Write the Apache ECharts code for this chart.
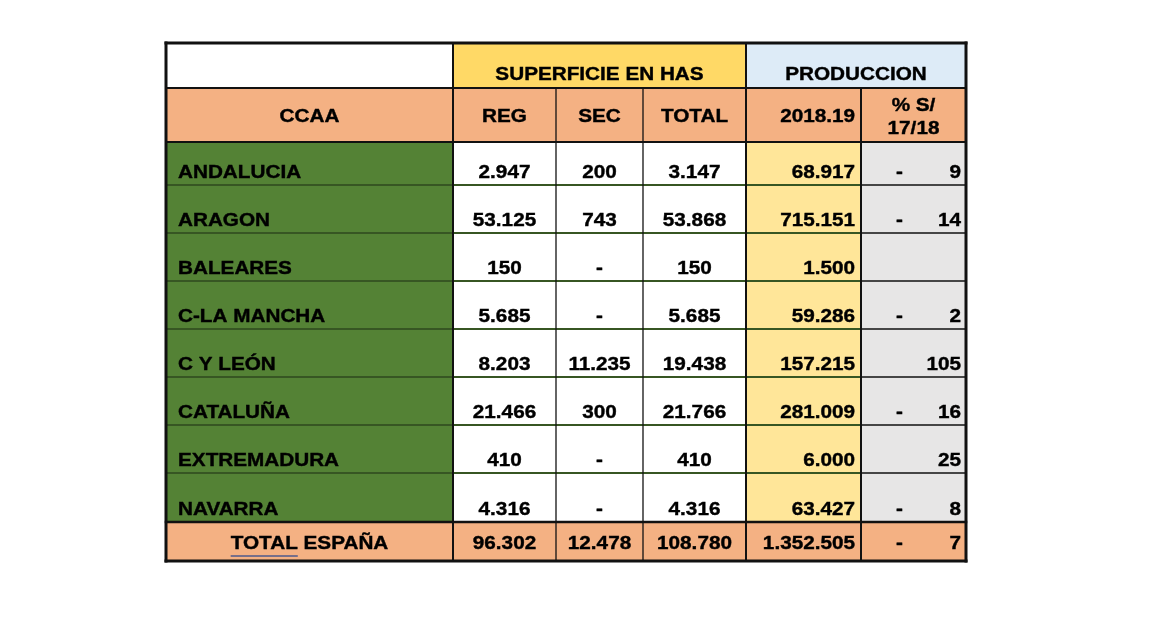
<!DOCTYPE html>
<html>
<head>
<meta charset="utf-8">
<script src="https://cdn.jsdelivr.net/npm/echarts@6/dist/echarts.min.js"></script>
<style>
    html,
    body {
        margin: 0;
        padding: 0;
        background: #fff;
    }

    #tabla {
        width: 1154px;
        height: 618px;
    }
</style>
</head>
<body>
<div id="tabla"></div>
<script>
    // datos de la tabla
    var cabeceraGrupos = ['SUPERFICIE EN HAS', 'PRODUCCION'];
    var cabeceraCols = ['CCAA', 'REG', 'SEC', 'TOTAL', '2018.19', '% S/\n17/18'];
    var regiones = ['ANDALUCIA', 'ARAGON', 'BALEARES', 'C-LA MANCHA', 'C Y LEÓN', 'CATALUÑA', 'EXTREMADURA', 'NAVARRA'];
    var regadio = [2947, 53125, 150, 5685, 8203, 21466, 410, 4316];
    var secano = [200, 743, null, null, 11235, 300, null, null];
    var totalHas = [3147, 53868, 150, 5685, 19438, 21766, 410, 4316];
    var produccion = [68917, 715151, 1500, 59286, 157215, 281009, 6000, 63427];
    var variacion = [-9, -14, null, -2, 105, -16, 25, -8];
    var filaTotal = [96302, 12478, 108780, 1352505, -7];

    // medidas de columnas y filas
    var anchoCol = [287, 103, 87, 103, 115, 105];
    var altoFila = [45, 54, 43, 48, 48, 48, 48, 48, 48, 49, 39];

    var FUENTE = '"Liberation Sans", Arial, sans-serif';
    var TAM = 19;
    var ESCALA = 1.09;

    var colX = [0];
    anchoCol.forEach(function(w) { colX.push(colX[colX.length - 1] + w); });
    var filaY = [0];
    altoFila.forEach(function(h) { filaY.push(filaY[filaY.length - 1] + h); });

    var fmt = function(n) {
        if (n === null || n === undefined) return '-';
        return Math.abs(n).toString().replace(/\B(?=(\d{3})+(?!\d))/g, '.');
    };

    var C_AMARILLO = '#FFD966',
        C_AZUL = '#DDEBF7',
        C_SALMON = '#F4B183',
        C_VERDE = '#548235',
        C_CREMA = '#FFE699',
        C_GRIS = '#E7E6E6';

    // lista de celdas
    var celdas = [];
    var celda = function(c0, c1, r, fill, texto, align, vy, extra) {
        var o = { c0: c0, c1: c1, r: r, fill: fill, texto: texto, align: align, vy: vy };
        for (var k in extra) o[k] = extra[k];
        celdas.push(o);
    };

    // cabecera
    celda(0, 1, 0, '#ffffff', '', 'center', 'mid');
    celda(1, 4, 0, C_AMARILLO, cabeceraGrupos[0], 'center', 'h1');
    celda(4, 6, 0, C_AZUL, cabeceraGrupos[1], 'center', 'h1');
    cabeceraCols.forEach(function(t, i) {
        celda(i, i + 1, 1, C_SALMON, t, i == 4 ? 'right' : 'center', 'h2', i == 5 ? { lh: 23 } : {});
    });

    // filas de comunidades
    regiones.forEach(function(nombre, i) {
        var r = i + 2;
        celda(0, 1, r, C_VERDE, nombre, 'left', 'dato');
        celda(1, 2, r, '#ffffff', fmt(regadio[i]), 'center', 'dato');
        celda(2, 3, r, '#ffffff', fmt(secano[i]), 'center', 'dato');
        celda(3, 4, r, '#ffffff', fmt(totalHas[i]), 'center', 'dato');
        celda(4, 5, r, C_CREMA, fmt(produccion[i]), 'right', 'dato');
        celda(5, 6, r, C_GRIS, variacion[i] === null ? '' : fmt(variacion[i]), 'right', 'dato', { neg: variacion[i] < 0 });
    });

    // fila total
    var rt = regiones.length + 2;
    celda(0, 1, rt, C_SALMON, 'TOTAL ESPAÑA', 'center', 'tot', { subrayar: 'TOTAL' });
    celda(1, 2, rt, C_SALMON, fmt(filaTotal[0]), 'center', 'tot');
    celda(2, 3, rt, C_SALMON, fmt(filaTotal[1]), 'center', 'tot');
    celda(3, 4, rt, C_SALMON, fmt(filaTotal[2]), 'center', 'tot');
    celda(4, 5, rt, C_SALMON, fmt(filaTotal[3]), 'right', 'tot');
    celda(5, 6, rt, C_SALMON, fmt(filaTotal[4]), 'right', 'tot', { neg: filaTotal[4] < 0 });

    // líneas [x1, y1, x2, y2, color, grosor] en bordes de col/fila
    var lineas = [];
    var hLinea = function(r, c0, c1, color, w) { lineas.push([colX[c0], filaY[r], colX[c1], filaY[r], color, w]); };
    var vLinea = function(c, r0, r1, color, w) { lineas.push([colX[c], filaY[r0], colX[c], filaY[r1], color, w]); };
    for (var r = 3; r < rt; r++) {
        hLinea(r, 0, 5, '#375623', 2);
        hLinea(r, 5, 6, '#111', 1.5);
    }
    vLinea(2, 1, 11, '#111', 1.3);
    vLinea(3, 1, 11, '#111', 1.3);
    vLinea(5, 1, 11, '#111', 2);
    vLinea(1, 0, 11, '#111', 2);
    vLinea(4, 0, 11, '#111', 2);
    hLinea(1, 0, 6, '#111', 2);
    hLinea(2, 0, 6, '#111', 2);
    hLinea(rt, 0, 6, '#111', 2.5);
    hLinea(0, 0, 6, '#111', 3);
    hLinea(11, 0, 6, '#111', 3);
    vLinea(0, 0, 11, '#111', 3);
    vLinea(6, 0, 11, '#111', 3);

    var medir = (function() {
        var ctx = document.createElement('canvas').getContext('2d');
        return function(t) {
            ctx.font = 'bold ' + TAM + 'px ' + FUENTE;
            return ctx.measureText(t).width * ESCALA;
        };
    })();

    var texto = function(t, x, y, align, lh) {
        return {
            type: 'text',
            x: x,
            y: y,
            scaleX: ESCALA,
            style: {
                text: t,
                fill: '#000',
                font: 'bold ' + TAM + 'px ' + FUENTE,
                align: align,
                verticalAlign: 'middle',
                lineHeight: lh || TAM,
                stroke: '#000',
                lineWidth: 0.4
            }
        };
    };

    var renderCelda = function(params, api) {
        var c = celdas[params.dataIndex];
        var p0 = api.coord([api.value(0), api.value(1)]);
        var p1 = api.coord([api.value(2), api.value(3)]);
        var hijos = [{
            type: 'rect',
            shape: { x: p0[0], y: p0[1], width: p1[0] - p0[0], height: p1[1] - p0[1] },
            style: { fill: c.fill }
        }];
        var y;
        if (c.vy == 'h1') y = p1[1] - 13;
        else if (c.vy == 'h2') y = (p0[1] + p1[1]) / 2 + 2;
        else if (c.vy == 'tot') y = p1[1] - 17;
        else y = p1[1] - 12;
        var x;
        if (c.align == 'left') x = p0[0] + 12;
        else if (c.align == 'right') x = p1[0] - (c.c0 == 5 ? 5 : 6);
        else x = (p0[0] + p1[0]) / 2;
        if (c.texto) hijos.push(texto(c.texto, x, y, c.align, c.lh));
        if (c.neg) hijos.push(texto('-', p0[0] + 35, y, 'left'));
        if (c.subrayar) {
            var ancho = medir(c.texto);
            var izq = x - ancho / 2;
            hijos.push({
                type: 'line',
                shape: { x1: izq, y1: y + 12, x2: izq + medir(c.subrayar), y2: y + 12 },
                style: { stroke: '#4C5A8C', lineWidth: 1.5 }
            });
        }
        return { type: 'group', children: hijos };
    };

    var renderLinea = function(params, api) {
        var l = lineas[params.dataIndex];
        var a = api.coord([api.value(0), api.value(1)]);
        var b = api.coord([api.value(2), api.value(3)]);
        return {
            type: 'line',
            shape: { x1: a[0], y1: a[1], x2: b[0], y2: b[1] },
            style: { stroke: l[4], lineWidth: l[5], lineCap: 'square' }
        };
    };

    var myChart = echarts.init(document.getElementById('tabla'));
    var option = {
        animation: false,
        backgroundColor: '#fff',
        grid: { left: 166, top: 43, width: colX[6], height: filaY[11] },
        xAxis: { type: 'value', min: 0, max: colX[6], show: false },
        yAxis: { type: 'value', min: 0, max: filaY[11], inverse: true, show: false },
        series: [{
            type: 'custom',
            clip: false,
            renderItem: renderCelda,
            data: celdas.map(function(c) {
                return [colX[c.c0], filaY[c.r], colX[c.c1], filaY[c.r + 1]];
            })
        }, {
            type: 'custom',
            clip: false,
            z: 3,
            renderItem: renderLinea,
            data: lineas.map(function(l) { return l.slice(0, 4); })
        }]
    };
    myChart.setOption(option);

    window.onresize = function() {
        myChart.resize();
    };
</script>
</body>
</html>
